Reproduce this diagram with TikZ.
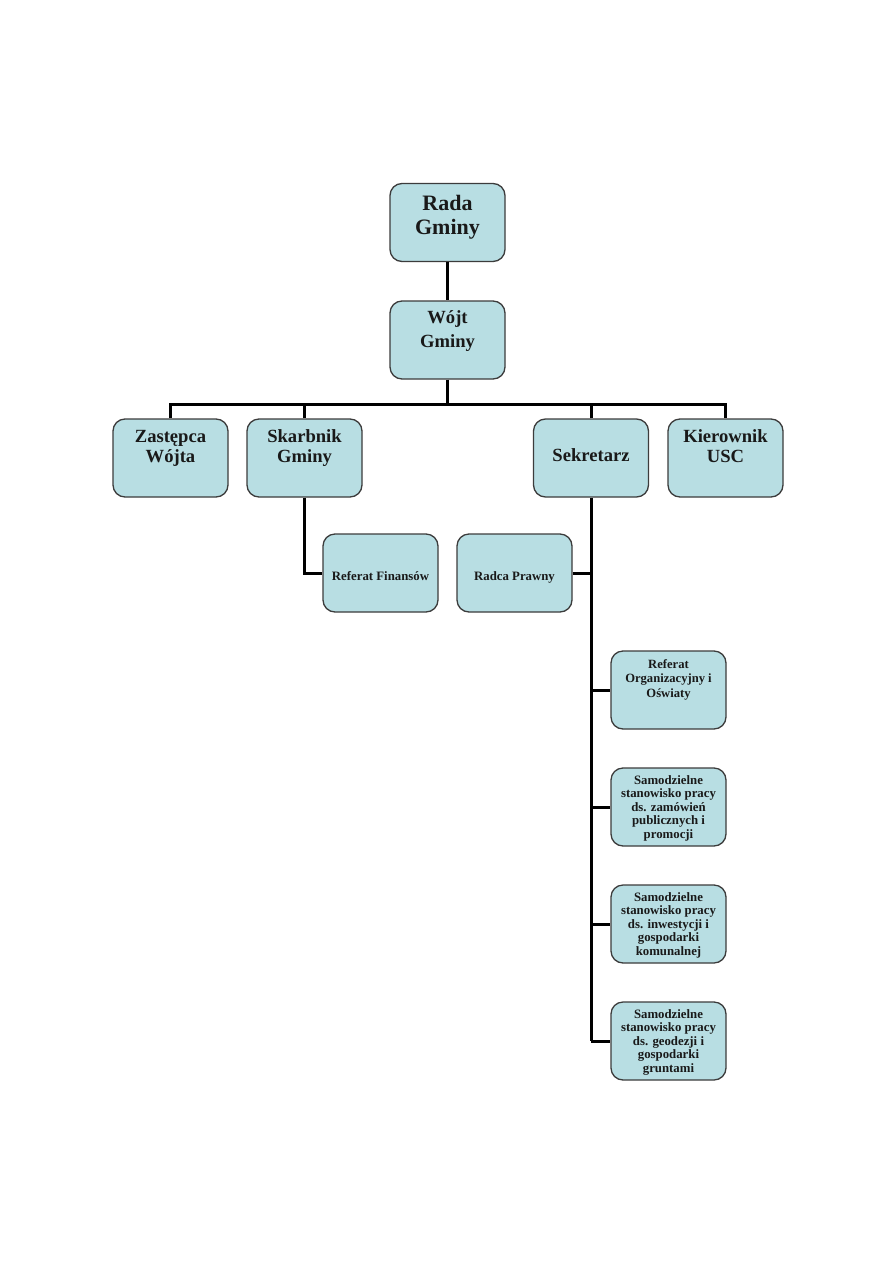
\documentclass[tikz,border=0pt]{standalone}
\usepackage{fontspec}
\setmainfont{Liberation Serif}
\definecolor{boxfill}{RGB}{184,222,227}
\definecolor{boxline}{RGB}{60,60,60}
\definecolor{txt}{RGB}{25,25,25}
\begin{document}
\begin{tikzpicture}[x=1pt,y=-1pt,
 box/.style={draw=boxline, fill=boxfill, line width=1.3pt, rounded corners=12pt, minimum width=115pt, minimum height=78pt, inner sep=0pt},
 big/.style={anchor=north, align=center, inner sep=0pt, text=txt, font=\bfseries\fontsize{22}{23.4}\selectfont},
 mid/.style={anchor=north, align=center, inner sep=0pt, text=txt, font=\bfseries\fontsize{18.6}{20}\selectfont},
 midw/.style={anchor=north, align=center, inner sep=0pt, text=txt, font=\bfseries\fontsize{18.6}{24}\selectfont},
 small/.style={anchor=north, align=center, inner sep=0pt, text=txt, font=\bfseries\fontsize{12.8}{13.4}\selectfont},
 smallw/.style={anchor=north, align=center, inner sep=0pt, text=txt, font=\bfseries\fontsize{12.6}{14.5}\selectfont},
 conn/.style={line width=3pt, line join=miter}]
\fill[white] (0,0) rectangle (893,1263);
\path[use as bounding box] (0,0) rectangle (893,1263);

% boxes
\node[box] (rada) at (447.5,222.5) {};
\node[box] (wojt) at (447.5,340) {};
\node[box] (zast) at (170.5,458) {};
\node[box] (skarb) at (304.5,458) {};
\node[box] (sekr) at (591,458) {};
\node[box] (kier) at (725.5,458) {};
\node[box] (reffin) at (380.5,573) {};
\node[box] (radca) at (514.5,573) {};
\node[box] (refo) at (668.5,690) {};
\node[box] (sam1) at (668.5,807) {};
\node[box] (sam2) at (668.5,924) {};
\node[box] (sam3) at (668.5,1041) {};

% connectors
\coordinate (bus) at (447.5,404);
\draw[conn] (rada.south) -- (wojt.north);
\draw[conn] (wojt.south) -- (bus);
\draw[conn] (zast.north) |- (bus) -| (kier.north);
\draw[conn] (skarb.north) -- (skarb.north |- bus);
\draw[conn] (sekr.north) -- (sekr.north |- bus);
\draw[conn] (skarb.south) |- (reffin.west);
\draw[conn] (sekr.south) -- (sekr.south |- sam3.west);
\draw[conn] (radca.east) -- (radca.east -| sekr.south);
\draw[conn] (refo.west -| sekr.south) -- (refo.west);
\draw[conn] (sam1.west -| sekr.south) -- (sam1.west);
\draw[conn] (sam2.west -| sekr.south) -- (sam2.west);
\draw[conn] (sam3.west -| sekr.south) -- (sam3.west);

% texts
\node[big] (radaT) at (447.5,195.5) {Rada\\Gminy};
\node[midw] (wojtT) at (447.5,310.5) {Wójt\\Gminy};
\node[mid] (zastT) at (170.5,430) {Zastępca\\Wójta};
\node[mid] (skarbT) at (304.5,429.5) {Skarbnik\\Gminy};
\node[mid] (sekrT) at (591,448) {Sekretarz};
\node[mid] (kierT) at (725.5,429.5) {Kierownik\\USC};
\node[small] (reffinT) at (380.5,571.5) {Referat Finansów};
\node[small] (radcaT) at (514.5,571.5) {Radca Prawny};
\node[smallw] (refoT) at (668.5,659) {Referat\\Organizacyjny i\\Oświaty};
\node[small] (sam1T) at (668.5,775.5) {Samodzielne\\stanowisko pracy\\ds. zamówień\\publicznych i\\promocji};
\node[small] (sam2T) at (668.5,892.5) {Samodzielne\\stanowisko pracy\\ds. inwestycji i\\gospodarki\\komunalnej};
\node[small] (sam3T) at (668.5,1009.5) {Samodzielne\\stanowisko pracy\\ds. geodezji i\\gospodarki\\gruntami};
\end{tikzpicture}
\end{document}
